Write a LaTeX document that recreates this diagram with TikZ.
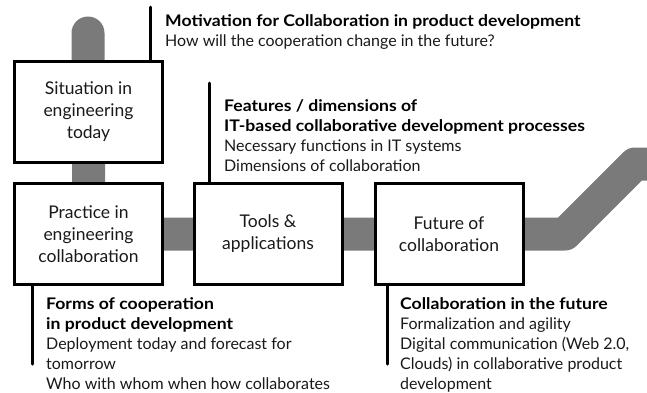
\documentclass[tikz,border=0pt]{standalone}
\usepackage{fontspec}
\setmainfont{Lato}[BoldFeatures={FakeStretch=1.1}]
\usetikzlibrary{positioning,backgrounds}
\definecolor{bandgray}{RGB}{122,122,122}

\begin{document}
\begin{tikzpicture}[x=1pt,y=-1pt,
    box/.style = {draw, line width=3pt, fill=white, minimum width=148pt, minimum height=101pt, align=center, font=\fontsize{17.5}{22}\selectfont, text=black!90},
    note/.style = {anchor=north west, inner sep=0pt, align=left, font=\fontsize{16}{20}\selectfont, text=black!90},
    stem/.style = {line width=3pt, line cap=round},
    band/.style = {draw=bandgray, line width=33pt, line cap=round, line join=round}]

    \useasboundingbox (0,0) rectangle (647,392);

    % Nodes
    \node[box] (1) at (88.5,111.5) {Situation in\\engineering\\today};
    \node[box] (2) at (88.5,234) {Practice in\\engineering\\collaboration};
    \node[box] (3) at (268,234) {Tools \&\\applications};
    \node[box] (4) at (449,234) {Future of\\collaboration};

    \node[note] (t1) at (165,14.5) {\textbf{\color{black}Motivation for Collaboration in product development}\\How will the cooperation change in the future?};
    \node[note] (t2) at (224,99.5) {\textbf{\color{black}Features / dimensions of}\\\textbf{\color{black}IT-based collaborative development processes}\\Necessary functions in IT systems\\Dimensions of collaboration};
    \node[note] (t3) at (46,297.5) {\textbf{\color{black}Forms of cooperation}\\\textbf{\color{black}in product development}\\Deployment today and forecast for\\tomorrow\\Who with whom when how collaborates};
    \node[note] (t4) at (400,297.5) {\textbf{\color{black}Collaboration in the future}\\Formalization and agility\\Digital communication (Web 2.0,\\Clouds) in collaborative product\\development};

    \coordinate (c1) at (150,7);
    \coordinate (c2) at (209,83);
    \coordinate (c3) at (32,364);
    \coordinate (c4) at (387,364);
    \coordinate (b0) at (88,33);
    \coordinate (b1) at (565,234);
    \coordinate (b2) at (635,164);
    \coordinate (b3) at (700,164);

    % Band
    \begin{scope}[on background layer]
        \draw[band] (b0) -- (1.center) -- (2.center) -- (4.center) -- (b1) -- (b2) -- (b3);
    \end{scope}

    % Edges
    \draw[stem] (c1) -- (c1 |- 1.north);
    \draw[stem] (c2) -- (c2 |- 3.north);
    \draw[stem] (c3 |- 2.south) -- (c3);
    \draw[stem] (c4 |- 4.south) -- (c4);

\end{tikzpicture}
\end{document}
